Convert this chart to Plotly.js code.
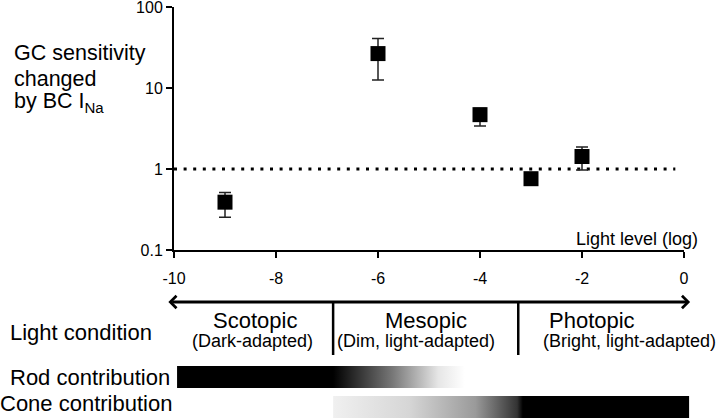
<!DOCTYPE html>
<html>
<head>
<meta charset="utf-8">
<script src="https://cdn.plot.ly/plotly-3.0.1.min.js"></script>
<style>html,body{margin:0;padding:0;background:#fff}#chart{width:720px;height:418px}</style>
</head>
<body>
<div id="chart"></div>
<script>
// values
var lightLevel = [-9, -6, -4, -3, -2];
var sensitivity = [0.39, 26.7, 4.7, 0.76, 1.43];
var sensUpper = [0.515, 41, 5.6, 0.84, 1.87];
var sensLower = [0.253, 12.6, 3.4, 0.69, 0.97];
var refLevel = 1;
var refLineEnd = -0.17;

var xTicks = [-10, -8, -6, -4, -2, 0];
var yTicks = [0.1, 1, 10, 100];
var yTickText = ['0.1', '1', '10', '100'];

var conditionNames = ['Scotopic', 'Mesopic', 'Photopic'];
var conditionNotes = ['(Dark-adapted)', '(Dim, light-adapted)', '(Bright, light-adapted)'];
var conditionEdges = [-6.88, -3.25];

var rodSpan = [-9.94, -4.25];
var rodFade = [-6.88, -4.3];
var coneSpan = [-6.88, 0.1];
var coneFade = [-6.88, -3.16];

// page geometry
var W = 720, H = 418;
var plotL = 174, plotR = 684, plotT = 7, plotB = 250;
var unit = (plotR - plotL) / 10;
var FONT = 'Liberation Sans, Arial, Helvetica, sans-serif';
function px(v) { return v / W; }
function py(v) { return 1 - v / H; }

var errPlus = [], errMinus = [];
for (let i = 0; i < sensitivity.length; i++) {
  errPlus.push(sensUpper[i] - sensitivity[i]);
  errMinus.push(sensitivity[i] - sensLower[i]);
}

var refTrace = {
  x: [-10, refLineEnd], y: [refLevel, refLevel],
  type: 'scatter', mode: 'lines', hoverinfo: 'skip',
  line: {color: 'black', width: 3, dash: '3px,6.6px'}
};

var pointTrace = {
  x: lightLevel, y: sensitivity, type: 'scatter', mode: 'markers',
  marker: {symbol: 'square', size: 15, color: 'black'},
  error_y: {type: 'data', symmetric: false, array: errPlus, arrayminus: errMinus,
    color: '#222', thickness: 1.5, width: 6}
};

function barTrace(span, fade, rowTop, rowBot, scale) {
  return {
    x: [span[0], span[1], span[1], span[0], span[0]],
    y: [rowTop, rowTop, rowBot, rowBot, rowTop],
    xaxis: 'x2', yaxis: 'y2', type: 'scatter', mode: 'none',
    fill: 'toself', hoverinfo: 'skip',
    fillgradient: {type: 'horizontal', start: fade[0], stop: fade[1], colorscale: scale}
  };
}

var rodTrace = barTrace(rodSpan, rodFade, 366, 388,
  [[0, '#000'], [0.45, '#777'], [0.8, '#e6e6e6'], [1, '#fff']]);
var coneTrace = barTrace(coneSpan, coneFade, 396, 418,
  [[0, '#f0f0f0'], [0.4, '#d6d6d6'], [0.75, '#9a9a9a'], [0.97, '#333'], [1, '#000']]);

var shapes = conditionEdges.map(function(e) {
  return {type: 'line', xref: 'x2', yref: 'y2', x0: e, x1: e, y0: 302, y1: 355,
    line: {color: 'black', width: 2.5}};
});

var ann = [];
var titleLines = ['GC sensitivity', 'changed', 'by BC I<sub>Na</sub>'];
var titleY = [53, 79, 102];
titleLines.forEach(function(t, i) {
  ann.push({xref: 'paper', yref: 'paper', x: px(12), y: py(titleY[i]), xanchor: 'left', yanchor: 'middle',
    text: t, showarrow: false, font: {family: FONT, size: 21.5, color: 'black'}});
});
ann.push({xref: 'paper', yref: 'paper', x: px(700), y: py(239), xanchor: 'right', yanchor: 'middle',
  text: 'Light level (log)', showarrow: false, font: {family: FONT, size: 18, color: 'black'}});

// double headed arrow
ann.push({xref: 'x2', yref: 'y2', axref: 'x2', ayref: 'y2', x: 0.12, y: 302, ax: -10.14, ay: 302,
  text: '', showarrow: true, arrowhead: 4, startarrowhead: 4, arrowside: 'end+start',
  arrowwidth: 3, arrowsize: 0.8, startarrowsize: 0.8, arrowcolor: 'black', standoff: 0, startstandoff: 0});

var nameX = [-8.41, -5.06, -1.80];
var noteX = [-8.47, -5.25, -1.06];
conditionNames.forEach(function(n, i) {
  ann.push({xref: 'x2', yref: 'y2', x: nameX[i], y: 320, xanchor: 'center', yanchor: 'middle',
    text: n, showarrow: false, font: {family: FONT, size: 22, color: 'black'}});
  ann.push({xref: 'x2', yref: 'y2', x: noteX[i], y: 341, xanchor: 'center', yanchor: 'middle',
    text: conditionNotes[i], showarrow: false, font: {family: FONT, size: 18, color: 'black'}});
});

var sideLabels = ['Light condition', 'Rod contribution', 'Cone contribution'];
var sideX = [8, 8, -2];
var sideY = [332, 377, 403];
sideLabels.forEach(function(t, i) {
  ann.push({xref: 'paper', yref: 'y2', x: px(sideX[i]), y: sideY[i], xanchor: 'left', yanchor: 'middle',
    text: t, showarrow: false, font: {family: FONT, size: 22, color: 'black'}});
});

var axisCommon = {
  showgrid: false, zeroline: false, showline: true, linecolor: 'black', linewidth: 2,
  ticks: 'outside', ticklen: 6, tickwidth: 1.5, tickcolor: 'black',
  ticklabeloverflow: 'allow',
  tickfont: {family: FONT, size: 16, color: 'black'}
};

var layout = {
  width: W, height: H,
  margin: {l: 0, r: 0, t: 0, b: 0},
  paper_bgcolor: 'white', plot_bgcolor: 'rgba(0,0,0,0)',
  showlegend: false,
  font: {family: FONT, color: 'black'},
  xaxis: Object.assign({}, axisCommon, {
    domain: [px(plotL), px(plotR)], range: [-10, 0], anchor: 'y',
    tickvals: xTicks, ticktext: xTicks.map(String), ticklabelstandoff: 7
  }),
  yaxis: Object.assign({}, axisCommon, {
    domain: [py(plotB), py(plotT)], type: 'log', range: [-1, 2.002], anchor: 'x',
    tickvals: yTicks, ticktext: yTickText
  }),
  xaxis2: {domain: [0, 1], range: [-10 - plotL / unit, (W - plotR) / unit], anchor: 'y2', visible: false},
  yaxis2: {domain: [0, 0.38], range: [H, H * 0.62], anchor: 'x2', visible: false},
  shapes: shapes,
  annotations: ann
};

Plotly.newPlot('chart', [refTrace, pointTrace, rodTrace, coneTrace], layout, {displayModeBar: false, staticPlot: true});
</script>
</body>
</html>
